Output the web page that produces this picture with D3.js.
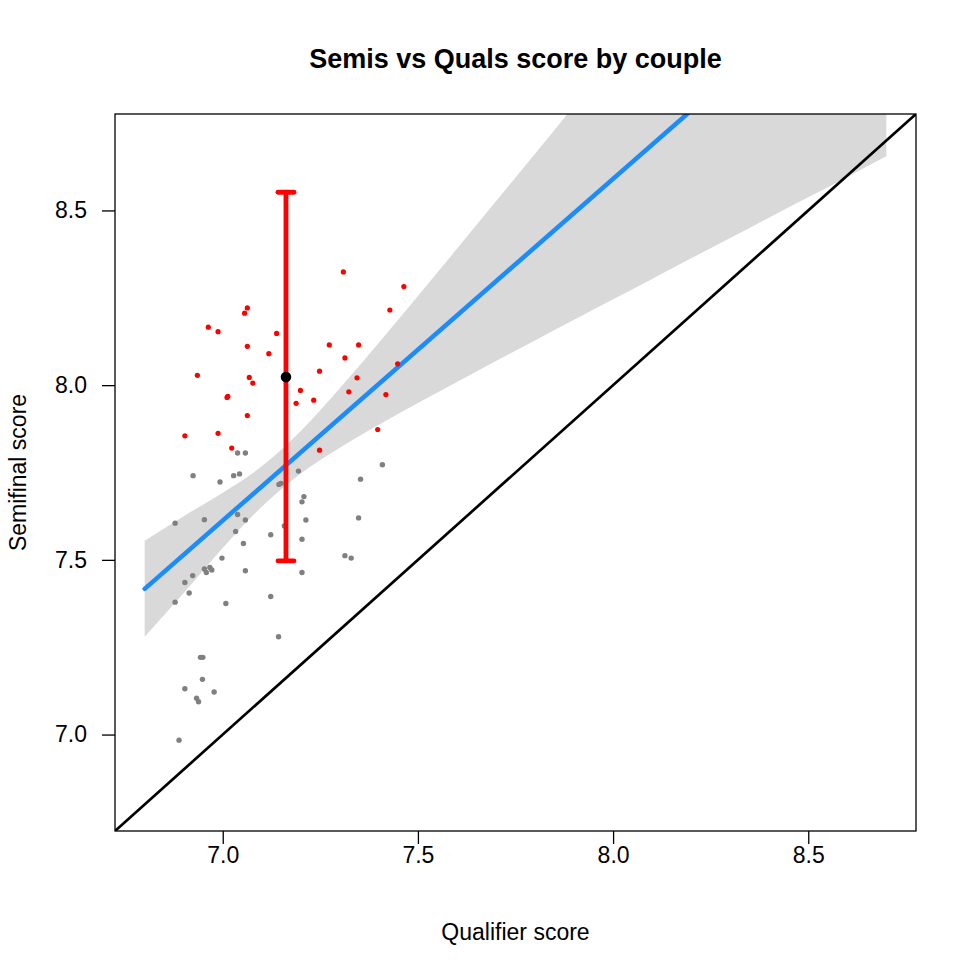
<!DOCTYPE html>
<html><head><meta charset="utf-8">
<script src="https://cdn.jsdelivr.net/npm/d3@7"></script>
<style>
body{margin:0;background:#fff}
svg{display:block}
text{font-family:"Liberation Sans",Arial,Helvetica,sans-serif;fill:#000}
</style></head>
<body><svg id="chart" width="975" height="975"></svg>
<script>
// ---- data ----
const advancedQual = [7.063,7.056,6.963,6.988,7.138,7.063,7.118,6.935,7.068,7.077,7.013,7.011,7.199,7.188,7.063,6.903,6.988,7.023,7.309,7.464,7.428,7.273,7.348,7.313,7.448,7.248,7.344,7.233,7.323,7.418,7.397,7.248];
const advancedSemi = [8.221,8.206,8.166,8.153,8.148,8.111,8.090,8.028,8.022,8.006,7.968,7.965,7.985,7.948,7.913,7.855,7.862,7.820,8.324,8.282,8.215,8.115,8.115,8.078,8.061,8.040,8.021,7.957,7.981,7.973,7.873,7.814];
const otherQual = [7.038,7.058,6.924,7.028,7.043,6.993,7.144,7.149,7.194,6.878,6.953,7.038,7.058,7.033,7.123,7.158,7.053,6.998,6.953,6.958,6.967,6.972,7.058,6.923,6.903,6.914,6.878,7.008,7.123,7.208,7.203,7.213,7.203,7.203,7.409,7.353,7.348,7.313,7.329,7.143,6.943,6.949,6.948,6.903,6.978,6.933,6.938,6.888];
const otherSemi = [7.806,7.806,7.741,7.741,7.746,7.723,7.716,7.719,7.754,7.605,7.615,7.630,7.614,7.581,7.572,7.597,7.547,7.505,7.474,7.464,7.478,7.471,7.469,7.455,7.435,7.405,7.379,7.375,7.395,7.681,7.666,7.614,7.559,7.464,7.772,7.731,7.620,7.512,7.505,7.280,7.221,7.221,7.158,7.131,7.122,7.104,7.094,6.984];
const meanQual = 7.162, meanSemi = 8.023;
const errLow = 7.497, errHigh = 8.552;
const fitX = [6.8, 8.7];
const fitY = [7.417, 9.275];
const bandX  = [6.8,6.9,7.0,7.1,7.2,7.3,7.4,7.5,7.6,7.7,7.8,7.9,8.0,8.1,8.2,8.3,8.4,8.5,8.6,8.7];
const bandLo = [7.280,7.405,7.534,7.652,7.747,7.821,7.887,7.949,8.009,8.069,8.128,8.187,8.246,8.304,8.363,8.421,8.480,8.538,8.596,8.655];
const bandHi = [7.555,7.625,7.692,7.768,7.869,7.991,8.121,8.255,8.390,8.526,8.662,8.799,8.936,9.073,9.210,9.347,9.484,9.621,9.758,9.895];
const xTicks = [7.0, 7.5, 8.0, 8.5];
const yTicks = [7.0, 7.5, 8.0, 8.5];
const axisLimits = [6.8, 8.7];
const titleText = "Semis vs Quals score by couple";
const xLabel = "Qualifier score";
const yLabel = "Semifinal score";

// ---- layout ----
const L = 115, R = 916, T = 114, B = 831;
const pad = (axisLimits[1] - axisLimits[0]) * 0.04;
const dom = [axisLimits[0] - pad, axisLimits[1] + pad];
const x = d3.scaleLinear().domain(dom).range([L, R]);
const y = d3.scaleLinear().domain(dom).range([B, T]);

const svg = d3.select("#chart");
svg.append("defs").append("clipPath").attr("id","clip")
  .append("rect").attr("x",L).attr("y",T).attr("width",R-L).attr("height",B-T);
const plot = svg.append("g").attr("clip-path","url(#clip)");

// confidence band
const band = bandX.map((v,i)=>({x:v, lo:bandLo[i], hi:bandHi[i]}));
plot.append("path").datum(band)
  .attr("fill","#D9D9D9").attr("stroke","none")
  .attr("d", d3.area().x(d=>x(d.x)).y0(d=>y(d.lo)).y1(d=>y(d.hi)).curve(d3.curveMonotoneX));

// fitted line
plot.append("path").datum(fitX.map((v,i)=>[v,fitY[i]]))
  .attr("fill","none").attr("stroke","#1A8CFF").attr("stroke-width",4.5).attr("stroke-linecap","round")
  .attr("d", d3.line().x(d=>x(d[0])).y(d=>y(d[1])));

// y = x reference line
plot.append("line")
  .attr("x1",x(dom[0])).attr("y1",y(dom[0])).attr("x2",x(dom[1])).attr("y2",y(dom[1]))
  .attr("stroke","#000").attr("stroke-width",2.7);

// points
plot.selectAll("circle.other").data(otherQual.map((v,i)=>[v,otherSemi[i]])).join("circle")
  .attr("class","other").attr("cx",d=>x(d[0])).attr("cy",d=>y(d[1])).attr("r",2.7).attr("fill","#808080");
plot.selectAll("circle.adv").data(advancedQual.map((v,i)=>[v,advancedSemi[i]])).join("circle")
  .attr("class","adv").attr("cx",d=>x(d[0])).attr("cy",d=>y(d[1])).attr("r",2.6).attr("fill","#FF0000");

// error bar
const eb = plot.append("g").attr("stroke","#FF0000").attr("stroke-width",4.8).attr("stroke-linecap","round");
eb.append("line").attr("x1",x(meanQual)).attr("x2",x(meanQual)).attr("y1",y(errLow)).attr("y2",y(errHigh));
eb.append("line").attr("x1",x(meanQual)-8).attr("x2",x(meanQual)+8).attr("y1",y(errLow)).attr("y2",y(errLow));
eb.append("line").attr("x1",x(meanQual)-8).attr("x2",x(meanQual)+8).attr("y1",y(errHigh)).attr("y2",y(errHigh));
plot.append("circle").attr("cx",x(meanQual)).attr("cy",y(meanSemi)).attr("r",5.3).attr("fill","#000");

// frame
svg.append("rect").attr("x",L).attr("y",T).attr("width",R-L).attr("height",B-T)
  .attr("fill","none").attr("stroke","#000").attr("stroke-width",1.3);

// axes
const fmt = d3.format(".1f");
const xa = svg.append("g").attr("transform",`translate(0,${B})`)
  .call(d3.axisBottom(x).tickValues(xTicks).tickFormat(fmt).tickSize(13).tickPadding(3));
const ya = svg.append("g").attr("transform",`translate(${L},0)`)
  .call(d3.axisLeft(y).tickValues(yTicks).tickFormat(fmt).tickSize(13).tickPadding(15));
[xa,ya].forEach(g=>{
  g.select(".domain").remove();
  g.selectAll(".tick line").attr("stroke","#000").attr("stroke-width",1.3);
  g.selectAll(".tick text").attr("font-size",23).attr("font-family","Liberation Sans, Arial, sans-serif").attr("fill","#000");
});

// titles
svg.append("text").attr("x",(L+R)/2).attr("y",68).attr("text-anchor","middle")
  .attr("font-size",27).attr("font-weight","bold").text(titleText);
svg.append("text").attr("x",(L+R)/2).attr("y",940).attr("text-anchor","middle")
  .attr("font-size",23).text(xLabel);
svg.append("text").attr("transform",`translate(26,${(T+B)/2}) rotate(-90)`).attr("text-anchor","middle")
  .attr("font-size",23).text(yLabel);
</script></body></html>
